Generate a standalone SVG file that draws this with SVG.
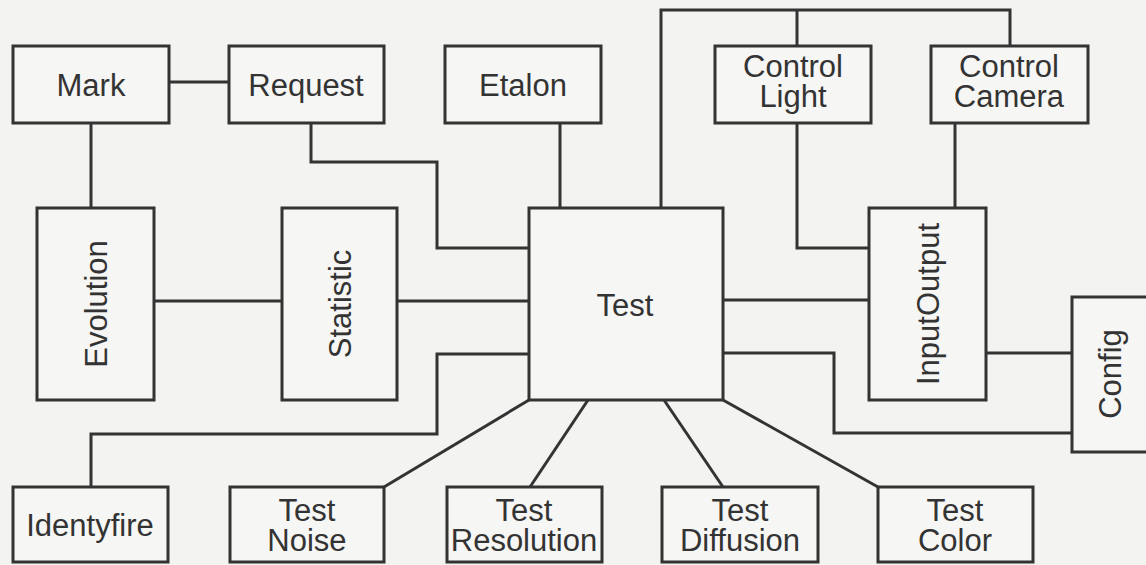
<svg xmlns="http://www.w3.org/2000/svg" width="1146" height="565" viewBox="0 0 1146 565">
<style>
.bg{fill:#f3f3f1}
.box{fill:#f6f6f4;stroke:#333;stroke-width:3}
.lbl{font-family:"Liberation Sans",Arial,sans-serif;font-size:31px;fill:#333;text-anchor:middle}
.con{fill:none;stroke:#333;stroke-width:3;stroke-linejoin:miter}
</style>
<rect class="bg" x="0" y="0" width="1146" height="565"/>
<g id="connectors">
<path class="con" d="M169,82 H229"/>
<path class="con" d="M91,123 V208"/>
<path class="con" d="M311,123 V162 H437 V248 H529"/>
<path class="con" d="M560,123 V208"/>
<path class="con" d="M661,208 V10 H1010 V46"/>
<path class="con" d="M797,10 V46"/>
<path class="con" d="M797,123 V248 H869"/>
<path class="con" d="M955,123 V208"/>
<path class="con" d="M154,301 H282"/>
<path class="con" d="M397,301 H529"/>
<path class="con" d="M529,354 H437 V434 H91 V487"/>
<path class="con" d="M723,300 H869"/>
<path class="con" d="M723,353 H834 V433 H1072"/>
<path class="con" d="M986,353 H1072"/>
<path class="con" d="M529,400 L384,487"/>
<path class="con" d="M588,400 L530,487"/>
<path class="con" d="M664,400 L723,487"/>
<path class="con" d="M723,400 L878,487"/>
</g>
<g id="mark"><rect class="box" x="13" y="46" width="156" height="77"/><text class="lbl" x="91" y="96">Mark</text></g>
<g id="request"><rect class="box" x="229" y="46" width="155" height="77"/><text class="lbl" x="306" y="96">Request</text></g>
<g id="etalon"><rect class="box" x="445" y="46" width="156" height="77"/><text class="lbl" x="523" y="96">Etalon</text></g>
<g id="control-light"><rect class="box" x="715" y="46" width="156" height="77"/><text class="lbl" x="793" y="77">Control</text><text class="lbl" x="793" y="107">Light</text></g>
<g id="control-camera"><rect class="box" x="931" y="46" width="157" height="77"/><text class="lbl" x="1009" y="77">Control</text><text class="lbl" x="1009" y="107">Camera</text></g>
<g id="evolution"><rect class="box" x="37" y="208" width="117" height="192"/><text class="lbl" transform="translate(107,304) rotate(-90)">Evolution</text></g>
<g id="statistic"><rect class="box" x="282" y="208" width="115" height="192"/><text class="lbl" transform="translate(351,304) rotate(-90)">Statistic</text></g>
<g id="test"><rect class="box" x="529" y="208" width="194" height="192"/><text class="lbl" x="625" y="316">Test</text></g>
<g id="inputoutput"><rect class="box" x="869" y="208" width="117" height="192"/><text class="lbl" transform="translate(939,304) rotate(-90)">InputOutput</text></g>
<g id="config"><rect class="box" x="1072" y="297" width="117" height="155"/><text class="lbl" transform="translate(1121,374) rotate(-90)">Config</text></g>
<g id="identyfire"><rect class="box" x="13" y="487" width="155" height="75"/><text class="lbl" x="90" y="536">Identyfire</text></g>
<g id="test-noise"><rect class="box" x="230" y="487" width="154" height="75"/><text class="lbl" x="307" y="521">Test</text><text class="lbl" x="307" y="551">Noise</text></g>
<g id="test-resolution"><rect class="box" x="447" y="487" width="155" height="75"/><text class="lbl" x="524" y="521">Test</text><text class="lbl" x="524" y="551">Resolution</text></g>
<g id="test-diffusion"><rect class="box" x="662" y="487" width="156" height="75"/><text class="lbl" x="740" y="521">Test</text><text class="lbl" x="740" y="551">Diffusion</text></g>
<g id="test-color"><rect class="box" x="878" y="487" width="155" height="75"/><text class="lbl" x="955" y="521">Test</text><text class="lbl" x="955" y="551">Color</text></g>
</svg>
